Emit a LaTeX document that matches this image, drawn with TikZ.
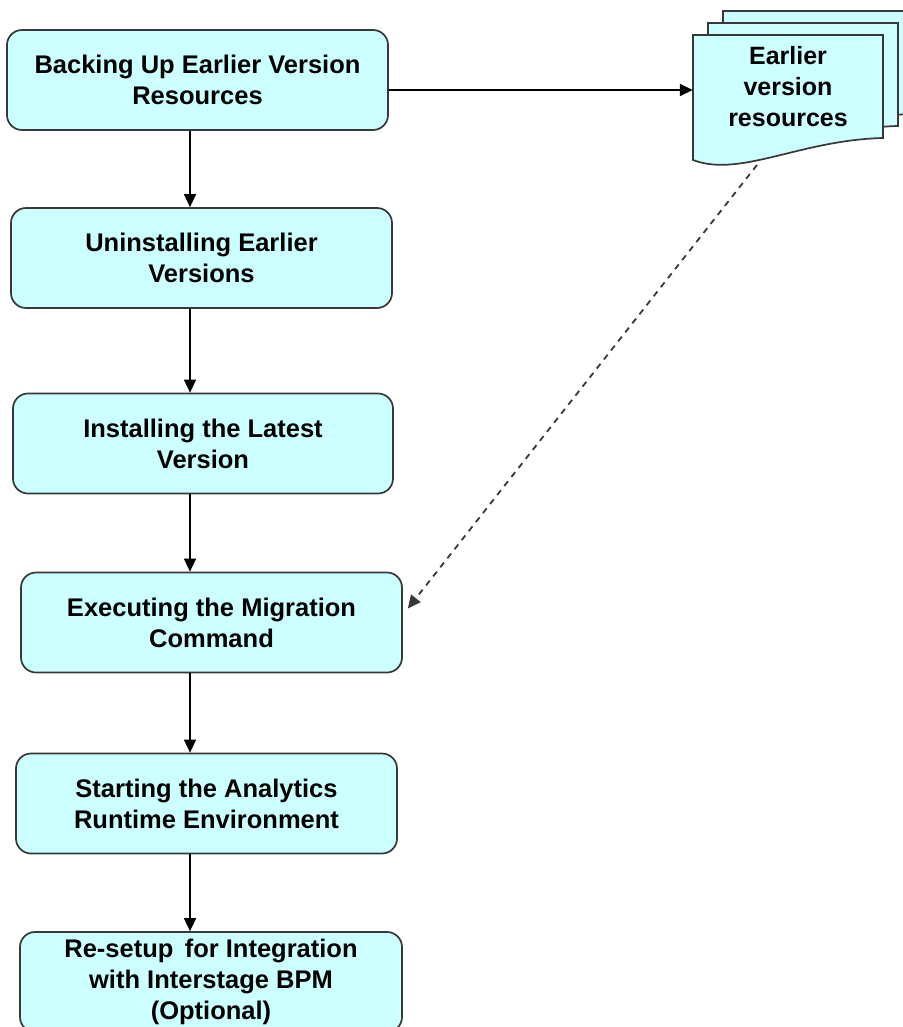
\documentclass[tikz,border=0pt]{standalone}
\usepackage{fontspec}
\setmainfont{Liberation Sans}
\usetikzlibrary{arrows.meta}
\definecolor{boxfill}{HTML}{CCFFFF}
\definecolor{boxline}{HTML}{383838}
\begin{document}
\begin{tikzpicture}[x=1pt,y=-1pt,
  stepbox/.style={draw=boxline, line width=1.7pt, fill=boxfill, rounded corners=15pt,
    align=center, font=\bfseries\fontsize{25.5}{31}\selectfont, inner sep=0pt,
    minimum height=100pt},
  docshape/.style={draw=boxline, line width=1.7pt, fill=boxfill},
  doctext/.style={align=center, font=\bfseries\fontsize{25}{31}\selectfont, inner sep=0pt,
    minimum width=190pt, minimum height=103pt},
  arr/.style={-{Triangle[length=13pt,width=12pt]}, line width=1.5pt, black},
  dasharr/.style={-{Triangle[length=13pt,width=12pt]}, line width=1.8pt, boxline,
    dash pattern=on 6pt off 5.5pt}]
\fill[white] (0,0) rectangle (902,1027);
\useasboundingbox (0,0) rectangle (902,1027);

% document stack
\draw[docshape] (723,11) -- (913,11) -- (913,114)
  .. controls (830,116) and (770,154) .. (723,136) -- cycle;
\draw[docshape] (708,23) -- (898,23) -- (898,126)
  .. controls (815,128) and (755,166) .. (708,148) -- cycle;
\draw[docshape] (693,35) -- (883,35) -- (883,138)
  .. controls (800,140) and (740,178) .. (693,160) -- cycle;
\node[doctext] (doc) at (788,86.5) {Earlier\\version\\resources};
\coordinate (docb) at (757,165);

% steps
\node[stepbox, minimum width=381pt] (b1) at (197.5,80) {Backing Up Earlier Version\\Resources};
\node[stepbox, minimum width=381pt] (b2) at (201.5,258) {Uninstalling Earlier\\Versions};
\node[stepbox, minimum width=380pt] (b3) at (203,443.5) {Installing the Latest\\Version};
\node[stepbox, minimum width=381pt] (b4) at (211.5,622.5) {Executing the Migration\\Command};
\node[stepbox, minimum width=381pt] (b5) at (206.5,803.5) {Starting the Analytics\\Runtime Environment};
\node[stepbox, minimum width=382pt] (b6) at (211,982) {Re-setup\, for Integration\\with Interstage BPM\\(Optional)};

\coordinate (ax) at (190,0);
\draw[arr] (b1.south -| ax) -- (b2.north -| ax);
\draw[arr] (b2.south -| ax) -- (b3.north -| ax);
\draw[arr] (b3.south -| ax) -- (b4.north -| ax);
\draw[arr] (b4.south -| ax) -- (b5.north -| ax);
\draw[arr] (b5.south -| ax) -- (b6.north -| ax);

\draw[arr] ([yshift=-10pt]b1.east) -- ([yshift=-10pt]b1.east -| doc.west);
\draw[dasharr] (docb) -- ([xshift=5pt,yshift=14pt]b4.east);
\end{tikzpicture}
\end{document}
